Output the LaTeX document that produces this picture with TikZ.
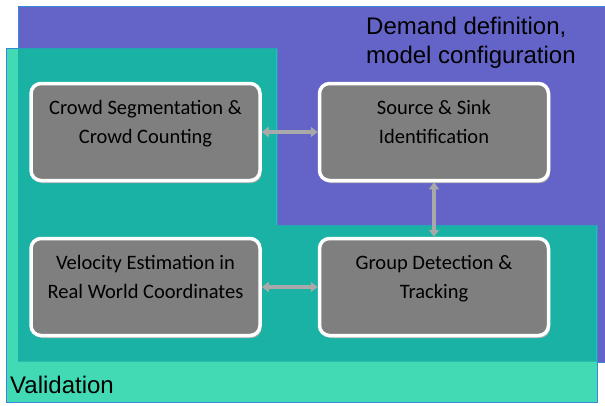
\documentclass[tikz,border=0pt]{standalone}
\usepackage{fontspec}
\setmainfont{Carlito}
\newfontfamily\arialfont{Liberation Sans}
\usetikzlibrary{arrows.meta,shadows}
\definecolor{demandpurple}{HTML}{6464C8}
\definecolor{validteal}{HTML}{42DAB4}
\definecolor{overlapteal}{HTML}{19B2A5}
\definecolor{edgeblue}{HTML}{3A88D8}
\definecolor{boxgray}{HTML}{7F7F7F}
\definecolor{linkgray}{HTML}{A9A9A9}
\tikzset{
    stagebox/.style={rectangle, rounded corners=10pt, draw=white, line width=3.5pt,
        fill=boxgray, minimum width=229pt, minimum height=97pt, align=center,
        font=\fontsize{20.5}{29}\selectfont, text=black, text depth=20pt,
        drop shadow={shadow xshift=1.5pt, shadow yshift=-2.5pt, fill=gray!65, opacity=1}},
    link/.style={draw=linkgray, line width=3.2pt,
        {Triangle[width=10pt,length=7pt]}-{Triangle[width=10pt,length=7pt]}},
    phase/.style={font=\arialfont\fontsize{24}{28.5}\selectfont, text=black, inner sep=0pt}
}
\begin{document}
\begin{tikzpicture}[x=1pt,y=-1pt]
    \useasboundingbox (0,0) rectangle (605,405);
    % Demand definition area
    \fill[demandpurple, draw=edgeblue, line width=0.8pt] (18,6) rectangle (610,362);
    % Validation area (L shape)
    \fill[validteal, draw=edgeblue, line width=0.8pt] (6,48) -- (277,48) -- (277,225) -- (597,225)
        -- (597,402) -- (6,402) -- cycle;
    \fill[overlapteal] (18,48.4) -- (276.6,48.4) -- (276.6,225.4) -- (596.6,225.4)
        -- (596.6,361.6) -- (18,361.6) -- cycle;
    \draw[edgeblue, line width=0.8pt] (18,48) -- (18,6);
    % Area titles
    \node[phase, anchor=north west, align=left] (demand) at (366,17)
        {Demand definition,\\model configuration};
    \node[phase, anchor=west] (valid) at (10,385) {Validation};
    % Processing stages
    \node[stagebox] (segment) at (145.5,132) {Crowd Segmentation \&\\Crowd Counting};
    \node[stagebox] (source) at (434,132) {Source \& Sink\\Identification};
    \node[stagebox] (velocity) at (145.5,287) {Velocity Estimation in\\Real World Coordinates};
    \node[stagebox] (group) at (434,287) {Group Detection \&\\Tracking};
    % Links between stages
    \draw[link] (segment.east) -- (source.west);
    \draw[link] (velocity.east) -- (group.west);
    \draw[link] (source.south) -- (group.north);
\end{tikzpicture}
\end{document}
